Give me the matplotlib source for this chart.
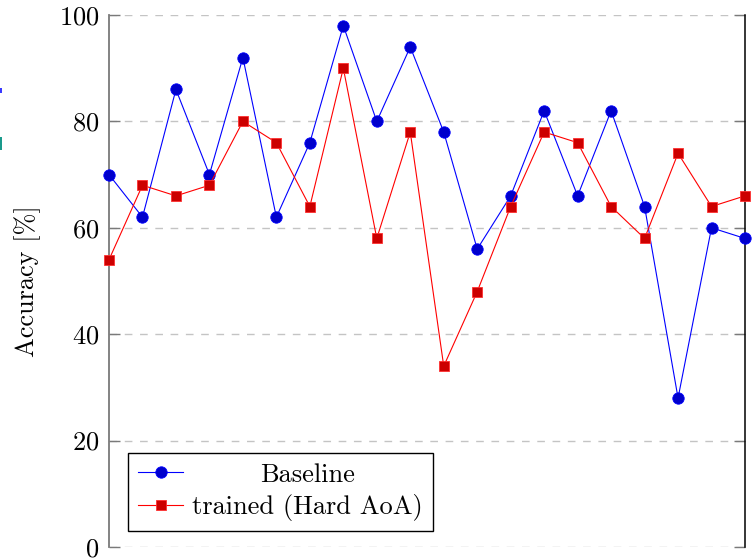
import matplotlib

matplotlib.use("Agg")
import matplotlib.pyplot as plt
from matplotlib.patches import Rectangle

# per-sample accuracy, baseline vs. model trained on hard AoA
samples = list(range(20))
baseline = [70, 62, 86, 70, 92, 62, 76, 98, 80, 94, 78, 56, 66, 82, 66, 82, 64, 28, 60, 58]
trained = [54, 68, 66, 68, 80, 76, 64, 90, 58, 78, 34, 48, 64, 78, 76, 64, 58, 74, 64, 66]
yticks = [0, 20, 40, 60, 80, 100]

plt.rcParams["font.family"] = ["cmr10", "DejaVu Serif"]
plt.rcParams["mathtext.fontset"] = "cm"
plt.rcParams["axes.formatter.use_mathtext"] = True

fig = plt.figure(figsize=(7.54, 5.58), dpi=100)
ax = fig.add_axes([109 / 754, 11 / 558, 636 / 754, 532 / 558])

ax.plot(samples, baseline, color="#0000ff", lw=0.8, marker="o", ms=8.2,
        mfc="#0000cc", mec="#0000ff", mew=0.6, clip_on=False, zorder=3,
        label="Baseline")
ax.plot(samples, trained, color="#ff0000", lw=0.8, marker="s", ms=7.8,
        mfc="#cc0000", mec="#ff3030", mew=0.6, clip_on=False, zorder=3,
        label="trained (Hard AoA)")

ax.set_xlim(0, 19)
ax.set_ylim(0, 100)
ax.set_yticks(yticks)
ax.set_xticks([])
ax.yaxis.grid(True, color="#c4c4c4", lw=1.0, ls=(0, (5.5, 5.5)))
ax.set_axisbelow(True)

for side in ("top", "bottom"):
    ax.spines[side].set_visible(False)
ax.spines["left"].set_color("#7a7a7a")
ax.spines["left"].set_linewidth(1.3)
ax.spines["right"].set_color("black")
ax.spines["right"].set_linewidth(1.1)

ax.tick_params(axis="y", direction="in", left=True, right=True, length=8,
               width=1.0, color="#7a7a7a", labelsize=19, pad=7)
ax.set_ylabel("Accuracy [%]", fontsize=19, labelpad=13)

leg = ax.legend(loc="lower left", bbox_to_anchor=(0.03, 0.03), borderaxespad=0,
                fontsize=19, fancybox=False, framealpha=1, edgecolor="black",
                handlelength=1.7, handletextpad=0.35, borderpad=0.38,
                labelspacing=0.28)
leg.get_frame().set_linewidth(1.0)

# centre the shorter legend entry within the text column
fig.canvas.draw()
r = fig.canvas.get_renderer()
texts = leg.get_texts()
w0 = texts[0].get_window_extent(r).width
w1 = texts[1].get_window_extent(r).width
texts[0].set_x((w1 - w0) / 2)

# fragments of neighbouring artwork at the left edge
fig.add_artist(Rectangle((0, 1 - 92.5 / 558), 1.5 / 754, 4.5 / 558,
                         transform=fig.transFigure, color="#3a3aff", lw=0))
fig.add_artist(Rectangle((0, 1 - 150 / 558), 2 / 754, 13 / 558,
                         transform=fig.transFigure, color="#1a9a8c", lw=0))

fig.savefig("out.png", dpi=100)
